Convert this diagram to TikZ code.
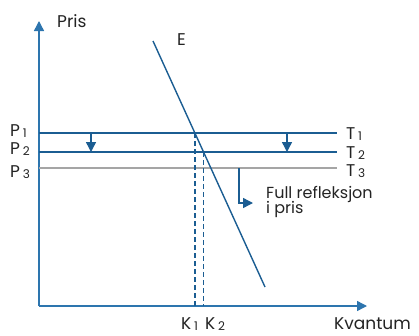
\documentclass[tikz,border=0pt]{standalone}
\usepackage{fontspec}
\setmainfont{Poppins}
\usepackage{tikz}
\usetikzlibrary{calc, intersections, arrows.meta}
\definecolor{linjeblaa}{RGB}{27,93,146}
\definecolor{aksblaa}{RGB}{45,117,174}
\definecolor{linjegraa}{RGB}{165,165,165}
\definecolor{tekst}{RGB}{35,35,35}
\newcommand{\lavindeks}[1]{\,\raisebox{-1.5pt}{\fontsize{12}{12}\selectfont #1}}

\begin{document}
\begin{tikzpicture}[x=1pt, y=-1pt, font=\fontsize{17}{17}\selectfont, text=tekst,
                pil/.style={-{Triangle[length=10pt, width=10pt]}},
                prislinje/.style={linjeblaa, line width=1.4pt},
                merke/.style={inner sep=0pt, anchor=base west}]
                \useasboundingbox (0,0) rectangle (419,335);
                \coordinate (O) at (39,306);
                \coordinate (Y) at (39,21);
                \coordinate (X) at (367,306);
                \coordinate (E1) at (153,41);
                \coordinate (E2) at (265,287);
                \coordinate (A1) at (39,133);
                \coordinate (B1) at (337,133);
                \coordinate (A2) at (39,152);
                \coordinate (B2) at (337,152);
                \coordinate (A3) at (39,168);
                \coordinate (B3) at (337,168);
                % axes
                \draw[aksblaa, line width=1.4pt, pil] (O) -- (Y);
                \draw[aksblaa, line width=1.4pt, pil] (O) -- (X);
                % price lines and demand
                \draw[prislinje, name path=T1] (A1) -- (B1);
                \draw[prislinje, name path=T2] (A2) -- (B2);
                \draw[linjegraa, line width=1.4pt] (A3) -- (B3);
                \draw[linjeblaa, line width=1.4pt, name path=E] (E1) -- (E2);
                \path[name intersections={of=E and T1, by=K1}];
                \path[name intersections={of=E and T2, by=K2}];
                \draw[linjeblaa, line width=1.3pt, dash pattern=on 5pt off 3pt] (K1) -- (K1 |- O);
                \draw[linjeblaa, line width=1.3pt, dash pattern=on 5pt off 3pt] (K2) -- (K2 |- O);
                % shifts
                \coordinate (S1) at (91,133);
                \coordinate (S2) at (287,133);
                \draw[linjeblaa, line width=1.4pt, pil] (S1) -- (S1 |- A2);
                \draw[linjeblaa, line width=1.4pt, pil] (S2) -- (S2 |- A2);
                \coordinate (R1) at (239,168);
                \coordinate (R2) at (239,203);
                \coordinate (R3) at (253,203);
                \draw[linjeblaa, line width=1.4pt, pil] (R1) -- (R2) -- (R3);
                % labels
                \node[merke] (pris) at (57,27) {Pris};
                \node[merke] (e) at (177,45) {E};
                \node[merke] (p1) at (10,136) {P\lavindeks{1}};
                \node[merke] (p2) at (10,154) {P\lavindeks{2}};
                \node[merke] (p3) at (10,177) {P\lavindeks{3}};
                \node[merke] (t1) at (346,139) {T\lavindeks{1}};
                \node[merke] (t2) at (346,158) {T\lavindeks{2}};
                \node[merke] (t3) at (346,176) {T\lavindeks{3}};
                \node[merke] (k1) at (181,329) {K\lavindeks{1}};
                \node[merke] (k2) at (205,329) {K\lavindeks{2}};
                \node[merke] (kv) at (334,329) {Kvantum};
                \node[merke, font=\fontsize{16}{16}\selectfont] (fr) at (266,198) {Full refleksjon};
                \node[merke, font=\fontsize{16}{16}\selectfont] (ip) at (266,213) {i pris};
            \end{tikzpicture}
\end{document}
